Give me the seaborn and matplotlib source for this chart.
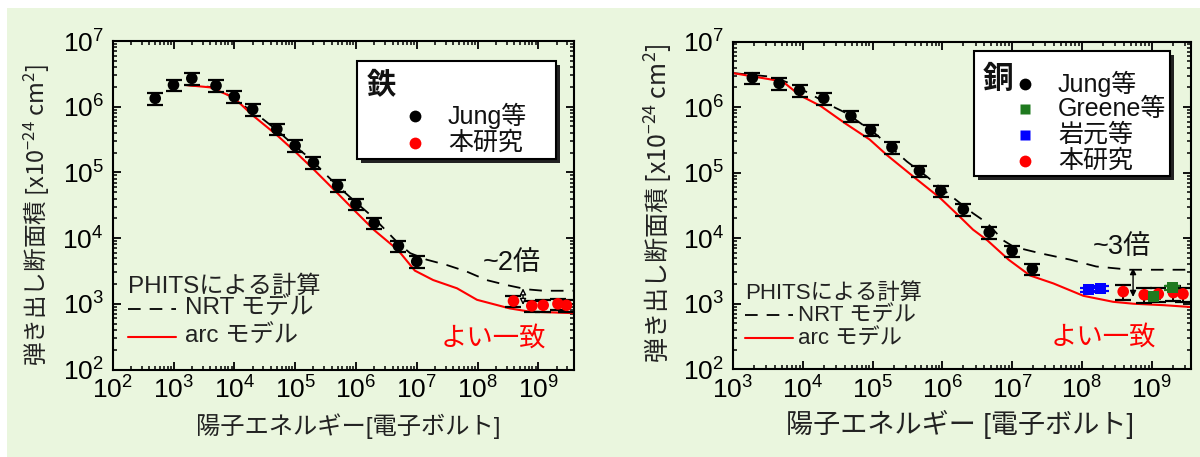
import numpy as np
import pandas as pd
import matplotlib
matplotlib.use("Agg")
import matplotlib.pyplot as plt
import seaborn as sns
from matplotlib.ticker import LogLocator, NullFormatter, LogFormatterSciNotation
from matplotlib.patches import Rectangle

# ---------------- data ----------------
# Iron (鉄)
fe_jung_E = [5e2, 1e3, 2e3, 5e3, 1e4, 2e4, 5e4, 1e5, 2e5, 5e5, 1e6, 2e6, 5e6, 1e7]
fe_jung_S = [1.34e6, 2.14e6, 2.7e6, 2.09e6, 1.42e6, 9.1e5, 4.57e5, 2.55e5, 1.41e5,
             6.3e4, 3.3e4, 1.7e4, 7.6e3, 4.4e3]
fe_this_E = [3.9e8, 7.8e8, 1.2e9, 2.1e9, 2.9e9]
fe_this_S = [1.1e3, 9.3e2, 9.5e2, 1.0e3, 9.5e2]
fe_nrt_E = [1.55e3, 4.0e3, 1.0e4, 2.0e4, 3.0e4, 5.0e4, 1e5, 1.8e5, 3.2e5, 5e5, 1e6, 2e6,
            2.6e6, 5e6, 7.8e6, 1.45e7, 3.1e7, 6.6e7, 1.4e8, 3.0e8, 6.5e8, 1.2e9, 3.9e9]
fe_nrt_S = [2.14e6, 2.0e6, 1.38e6, 8.1e5, 6.4e5, 4.4e5, 2.5e5, 1.6e5, 9.3e4, 6.2e4, 3.5e4,
            2.0e4, 1.55e4, 8.3e3, 5.9e3, 4.7e3, 3.9e3, 3.1e3, 2.3e3, 1.93e3, 1.66e3, 1.58e3, 1.58e3]
fe_arc_E = [1.55e3, 4.0e3, 7.0e3, 1e4, 2e4, 5e4, 1e5, 2e5, 5e5, 1e6, 2e6, 4.9e6, 9.3e6,
            1.86e7, 4.6e7, 9.8e7, 3.4e8, 7.2e8, 3.9e9]
fe_arc_S = [2.14e6, 1.97e6, 1.58e6, 1.35e6, 7.4e5, 3.7e5, 2.07e5, 1.12e5, 4.8e4, 2.5e4,
            1.32e4, 6.6e3, 3.2e3, 2.3e3, 1.72e3, 1.15e3, 8.5e2, 7.6e2, 7.2e2]

# Copper (銅)
cu_jung_E = [1.9e3, 4.6e3, 9e3, 2e4, 4.9e4, 9.4e4, 1.9e5, 4.7e5, 9.5e5, 2e6, 4.7e6, 1e7, 1.95e7]
cu_jung_S = [2.8e6, 2.3e6, 1.8e6, 1.36e6, 7.3e5, 4.5e5, 2.44e5, 1.07e5, 5.3e4, 2.75e4,
             1.23e4, 6.4e3, 3.4e3]
cu_greene_E = [1.05e9, 1.96e9]
cu_greene_S = [1.29e3, 1.75e3]
cu_iwamoto_E = [1.23e8, 1.86e8]
cu_iwamoto_S = [1.63e3, 1.73e3]
cu_this_E = [3.9e8, 7.8e8, 1.24e9, 2.04e9, 2.8e9]
cu_this_S = [1.53e3, 1.37e3, 1.41e3, 1.48e3, 1.41e3]
cu_nrt_E = [1e3, 3.6e3, 6.6e3, 1.4e4, 2.45e4, 4.3e4, 1.15e5, 3.1e5, 6.0e5, 1.45e6, 2.75e6,
            4.4e6, 7.4e6, 1.05e7, 2.5e7, 6.8e7, 1.6e8, 4.9e8, 3.7e9]
cu_nrt_S = [3.3e6, 2.9e6, 2.3e6, 1.51e6, 1.07e6, 8.0e5, 3.76e5, 1.48e5, 8.7e4, 4.1e4, 2.4e4,
            1.7e4, 9.3e3, 7.4e3, 5.9e3, 4.7e3, 3.7e3, 3.3e3, 3.3e3]
cu_arc_E = [1e3, 3.4e3, 5.2e3, 9.1e3, 1.8e4, 4.1e4, 9.1e4, 1.6e5, 4.3e5, 9.3e5, 1.8e6, 2.75e6,
            4.4e6, 8.9e6, 1.8e7, 3.9e7, 1.05e8, 2.8e8, 5.5e8, 1.5e9, 3.7e9]
cu_arc_S = [3.3e6, 2.65e6, 2.44e6, 1.51e6, 1.04e6, 5.6e5, 3.2e5, 1.86e5, 7.9e4, 4.1e4, 2.1e4,
            1.35e4, 9.3e3, 4.7e3, 2.7e3, 2.04e3, 1.32e3, 1.07e3, 1.0e3, 9.5e2, 8.9e2]

# relative uncertainties
jung_rel_err = 0.2
this_rel_err_fe = 0.2
this_rel_err_cu = 0.25
greene_rel_err = 0.08
iwamoto_rel_err = 0.08

x_ticks_fe = [1e2, 1e3, 1e4, 1e5, 1e6, 1e7, 1e8, 1e9]
x_ticks_cu = [1e3, 1e4, 1e5, 1e6, 1e7, 1e8, 1e9]
y_ticks = [1e2, 1e3, 1e4, 1e5, 1e6, 1e7]
xlim_fe = (1e2, 3.9e9)
xlim_cu = (1e3, 3.65e9)
ylim = (1e2, 1e7)

ylabel_txt = "弾き出し断面積 [x10$^{\\mathregular{-24}}$ cm$^{\\mathregular{2}}$]"
xlabel_fe = "陽子エネルギー[電子ボルト]"
xlabel_cu = "陽子エネルギー [電子ボルト]"

# ---------------- style ----------------
sns.set_theme(style="ticks")
plt.rcParams["font.family"] = ["Liberation Sans", "Noto Sans CJK JP", "DejaVu Sans"]
plt.rcParams["mathtext.default"] = "regular"
plt.rcParams["axes.unicode_minus"] = False

BG = "#EAF6DE"
RED = "#FF0000"
GREEN = "#1F7A1F"
BLUE = "#0000FF"
CJK = "Noto Sans CJK JP"

W, H = 1200, 457
fig = plt.figure(figsize=(W / 100, H / 100), dpi=100, facecolor="white")
fig.add_artist(Rectangle((7 / W, 0), 1 - 7 / W, 1 - 8 / H, transform=fig.transFigure,
                         facecolor=BG, edgecolor="none", zorder=-10))


def box(x0, y0, x1, y1):
    return [x0 / W, 1 - y1 / H, (x1 - x0) / W, (y1 - y0) / H]


def fp(x, y):
    return (x / W, 1 - y / H)


axL = fig.add_axes(box(112.7, 41, 574.3, 369.5))
axR = fig.add_axes(box(732.9, 41.5, 1191, 369.3))


def style_axis(ax, xlim, xticks):
    ax.set_xscale("log")
    ax.set_yscale("log")
    ax.set_facecolor("none")
    ax.set_xlim(*xlim)
    ax.set_ylim(*ylim)
    ax.xaxis.set_major_locator(LogLocator(base=10, numticks=30))
    ax.yaxis.set_major_locator(LogLocator(base=10, numticks=30))
    ax.xaxis.set_minor_locator(LogLocator(base=10, subs=np.arange(2, 10) * 1.0, numticks=100))
    ax.yaxis.set_minor_locator(LogLocator(base=10, subs=np.arange(2, 10) * 1.0, numticks=100))
    ax.xaxis.set_minor_formatter(NullFormatter())
    ax.yaxis.set_minor_formatter(NullFormatter())
    ax.xaxis.set_major_formatter(LogFormatterSciNotation())
    ax.yaxis.set_major_formatter(LogFormatterSciNotation())
    ax.set_xticks(xticks)
    ax.set_yticks(y_ticks)
    for s in ax.spines.values():
        s.set_visible(True)
        s.set_color("black")
        s.set_linewidth(1.5)
    ax.tick_params(which="both", direction="in", top=True, right=True, colors="black")
    ax.tick_params(which="major", length=6, width=1.3, labelsize=19)
    ax.tick_params(which="minor", length=3.2, width=1.1)
    ax.tick_params(axis="x", which="major", pad=5)
    ax.tick_params(axis="y", which="major", pad=6.5)
    ax.grid(False)


def curves(ax, nE, nS, aE, aS):
    sns.lineplot(data=pd.DataFrame({"E": nE, "S": nS}), x="E", y="S", ax=ax, color="black",
                 lw=1.3, linestyle=(0, (7, 5)), sort=False, estimator=None, legend=False, zorder=2)
    sns.lineplot(data=pd.DataFrame({"E": aE, "S": aS}), x="E", y="S", ax=ax, color=RED,
                 lw=1.5, sort=False, estimator=None, legend=False, zorder=2.5)


def points(ax, E, S, rel, color, ecolor, marker, size):
    S = np.asarray(S)
    ax.errorbar(E, S, yerr=[S * rel, S * rel], fmt="none", ecolor=ecolor, elinewidth=1.4,
                capsize=5.5, capthick=1.6, zorder=3)
    sns.scatterplot(x=E, y=S, ax=ax, color=color, marker=marker, s=size, edgecolor="none",
                    linewidth=0, legend=False, zorder=4)


for ax, xl, xt in [(axL, xlim_fe, x_ticks_fe), (axR, xlim_cu, x_ticks_cu)]:
    style_axis(ax, xl, xt)

# --- Iron panel
curves(axL, fe_nrt_E, fe_nrt_S, fe_arc_E, fe_arc_S)
points(axL, fe_jung_E, fe_jung_S, jung_rel_err, "black", "black", "o", 70)
points(axL, fe_this_E, fe_this_S, this_rel_err_fe, RED, "black", "o", 70)

# --- Copper panel
curves(axR, cu_nrt_E, cu_nrt_S, cu_arc_E, cu_arc_S)
points(axR, cu_jung_E, cu_jung_S, jung_rel_err, "black", "black", "o", 70)
points(axR, cu_iwamoto_E, cu_iwamoto_S, iwamoto_rel_err, BLUE, BLUE, "s", 60)
points(axR, cu_this_E, cu_this_S, this_rel_err_cu, RED, "black", "o", 70)
points(axR, cu_greene_E, cu_greene_S, greene_rel_err, GREEN, GREEN, "s", 60)

# axis labels
for ax, xl, xfs, yfs, xc, yc in [(axL, xlabel_fe, 17.5, 17.0, (0.510, -0.172), (-0.165, 0.47)),
                                 (axR, xlabel_cu, 19.5, 18.0, (0.4957, -0.167), (-0.162, 0.507))]:
    ax.set_xlabel(xl, fontsize=xfs, color="#222222", va="center")
    ax.xaxis.set_label_coords(*xc)
    ax.set_ylabel(ylabel_txt, fontsize=yfs, family=CJK, color="#222222", va="center")
    ax.yaxis.set_label_coords(*yc)

# comparison arrows
axL.annotate("", xy=(5.6e8, 9.6e2), xytext=(5.6e8, 1.72e3),
             arrowprops=dict(arrowstyle="<|-|>", color="black", lw=1.0, mutation_scale=9,
                             fc="white", shrinkA=0, shrinkB=0), zorder=5)
axR.annotate("", xy=(5.4e8, 1.27e3), xytext=(5.4e8, 3.5e3),
             arrowprops=dict(arrowstyle="<|-|>", color="black", lw=1.0, mutation_scale=9,
                             shrinkA=0, shrinkB=0), zorder=5)


def ftext(ax, x, y, s, **kw):
    ax.text(*fp(x, y), s, transform=fig.transFigure, **kw)


def fline(ax, x0, x1, y, **kw):
    a, b = fp(x0, y)
    c, _ = fp(x1, y)
    ax.plot([a, c], [b, b], transform=fig.transFigure, clip_on=False, **kw)


# annotations
ftext(axL, 512, 263, "~2倍", fontsize=19.5, ha="center", va="center", color="#111111")
ftext(axR, 1122, 247, "~3倍", fontsize=19.5, ha="center", va="center", color="#111111")
ftext(axL, 493.5, 338, "よい一致", fontsize=19, ha="center", va="center", color=RED)
ftext(axR, 1103.5, 337, "よい一致", fontsize=19, ha="center", va="center", color=RED)

# PHITS line keys
for ax, x0, x1, xt, ys, fs in [(axL, 128, 176, 185, (287, 309, 337), 17.5),
                               (axR, 745, 793, 798, (293, 315, 338), 16)]:
    ftext(ax, x0, ys[0], "PHITSによる計算", fontsize=fs, ha="left", va="center", color="#222222")
    fline(ax, x0, x1, ys[1], color="black", lw=1.3, linestyle=(0, (7, 5)))
    ftext(ax, xt, ys[1], "NRT モデル", fontsize=fs, ha="left", va="center", color="#222222")
    fline(ax, x0, x1, ys[2], color=RED, lw=1.5)
    ftext(ax, xt, ys[2], "arc モデル", fontsize=fs, ha="left", va="center", color="#222222")


# legend boxes
def legend_box(ax, x0, y0, x1, y1):
    sx, sy = fp(x0 + 4, y1 + 4)
    ax.add_patch(Rectangle((sx, sy), (x1 - x0) / W, (y1 - y0) / H, transform=fig.transFigure,
                           facecolor="#222222", edgecolor="none", zorder=9, clip_on=False))
    bx, by = fp(x0, y1)
    ax.add_patch(Rectangle((bx, by), (x1 - x0) / W, (y1 - y0) / H, transform=fig.transFigure,
                           facecolor="white", edgecolor="black", lw=1.5, zorder=10, clip_on=False))


def legend_entry(ax, xm, xl, y, marker, color, label, ms):
    ax.plot(*[[v] for v in fp(xm, y)], transform=fig.transFigure, marker=marker, color=color,
            ms=ms, mec="none", ls="none", zorder=11, clip_on=False)
    ftext(ax, xl, y, label, fontsize=18, ha="left", va="center", color="#111111", zorder=11)


legend_box(axL, 357, 61, 556, 159)
ftext(axL, 381, 85, "鉄", fontsize=21, fontweight="bold", family=CJK, ha="center", va="center",
      color="#111111", zorder=11)
legend_entry(axL, 415, 448, 116, "o", "black", "Jung等", 8.5)
legend_entry(axL, 415, 448, 143, "o", RED, "本研究", 8.5)

legend_box(axR, 974, 51, 1170, 175.5)
ftext(axR, 998, 79, "銅", fontsize=22, fontweight="bold", family=CJK, ha="center", va="center",
      color="#111111", zorder=11)
legend_entry(axR, 1024.5, 1058, 84, "o", "black", "Jung等", 8.5)
legend_entry(axR, 1024.5, 1058, 109, "s", GREEN, "Greene等", 7.5)
legend_entry(axR, 1024.5, 1058, 135, "s", BLUE, "岩元等", 7.5)
legend_entry(axR, 1024.5, 1058, 161, "o", RED, "本研究", 8.5)

fig.savefig("out.png", dpi=100, facecolor="white")
